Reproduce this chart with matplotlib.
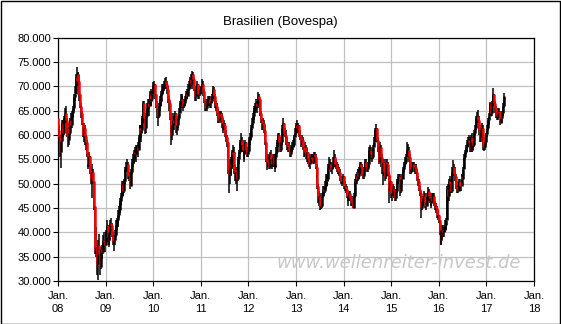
import numpy as np
import pandas as pd
import matplotlib
matplotlib.use("Agg")
import matplotlib.pyplot as plt
from matplotlib.patches import Rectangle

plt.rcParams["font.family"] = ["Liberation Sans", "DejaVu Sans"]

# weekly Bovespa values in thousands (close / high / low)
start_open = 63.5

close_2008 = [61.0, 59.5, 56.5, 58.8, 62.5, 60.5, 63.5, 64.5, 63.0, 60.0, 61.5, 59.0, 60.5,
              63.0, 62.0, 64.5, 65.5, 67.8, 68.5, 72.0, 71.2, 72.5, 71.0, 68.5, 66.0, 64.5,
              62.5, 60.0, 61.5, 59.8, 58.5, 56.0, 54.5, 54.0, 55.7, 52.5, 51.0, 52.5, 50.5,
              45.5, 36.4, 37.0, 33.4, 37.3, 36.5, 35.6, 32.8, 36.6, 36.0, 38.5, 38.0, 37.5]
high_2008 = [63.9, 62.0, 60.0, 59.5, 63.0, 63.0, 64.0, 65.5, 66.0, 63.5, 62.5, 61.5, 61.0,
             63.5, 64.5, 65.0, 66.0, 68.5, 70.0, 72.5, 73.9, 73.0, 73.0, 71.0, 68.5, 66.5,
             65.0, 62.5, 62.5, 62.0, 60.0, 59.0, 56.5, 55.5, 56.5, 55.5, 53.5, 54.0, 53.0,
             50.5, 45.5, 41.0, 37.5, 38.5, 39.7, 37.5, 36.0, 37.0, 37.5, 39.5, 40.0, 38.5]
low_2008 = [60.5, 58.0, 55.5, 53.2, 58.5, 59.5, 60.0, 62.5, 62.5, 59.5, 59.0, 57.5, 58.0,
            60.0, 61.5, 61.5, 63.5, 65.0, 67.0, 68.5, 70.8, 70.5, 70.0, 67.0, 65.5, 63.5,
            62.0, 59.5, 58.5, 58.0, 57.0, 55.5, 53.5, 53.0, 53.5, 52.0, 50.0, 47.0, 50.0,
            44.5, 35.5, 35.0, 31.3, 30.2, 35.0, 33.5, 31.3, 32.5, 34.5, 35.5, 37.0, 36.0]

close_2009 = [40.2, 41.5, 39.0, 38.5, 40.0, 42.0, 41.5, 39.5, 38.2, 38.5, 39.5, 41.5, 42.5,
              43.5, 44.5, 45.5, 46.5, 47.5, 50.0, 48.5, 50.5, 53.0, 53.5, 54.0, 51.5, 51.5,
              51.0, 49.5, 52.5, 54.5, 54.8, 56.5, 56.0, 57.0, 57.5, 57.0, 59.5, 61.5, 60.5,
              61.0, 63.5, 66.5, 63.5, 61.5, 64.0, 65.5, 66.5, 66.0, 68.5, 67.0, 67.5, 68.5]
high_2009 = [40.5, 42.5, 41.5, 40.0, 40.5, 42.5, 43.0, 42.0, 40.0, 39.5, 40.5, 42.5, 43.0,
             44.5, 45.5, 46.5, 47.0, 48.0, 50.5, 50.5, 51.0, 53.5, 54.5, 55.0, 54.5, 52.5,
             52.5, 51.5, 53.0, 55.0, 56.0, 57.0, 57.5, 58.0, 58.0, 58.5, 60.0, 62.0, 62.0,
             62.0, 64.0, 67.0, 67.0, 64.5, 64.5, 66.5, 67.5, 67.5, 69.0, 69.5, 68.5, 69.0]
low_2009 = [37.5, 39.5, 38.0, 37.0, 37.5, 39.5, 40.5, 39.0, 37.5, 36.2, 37.5, 39.0, 40.5,
            41.0, 43.0, 44.0, 45.0, 45.5, 47.0, 47.5, 48.0, 50.0, 52.5, 52.5, 51.0, 50.5,
            50.5, 49.0, 49.5, 52.0, 53.5, 54.0, 55.0, 54.5, 56.0, 55.5, 57.0, 59.0, 59.5,
            58.5, 60.5, 63.0, 62.5, 60.3, 60.5, 63.5, 65.0, 64.0, 66.0, 66.0, 66.0, 67.0]

close_2010 = [70.2, 70.5, 68.5, 66.0, 65.5, 64.0, 66.0, 67.5, 67.0, 68.5, 69.5, 70.0, 70.3,
              71.0, 70.5, 69.5, 67.5, 66.5, 63.5, 61.5, 60.0, 62.0, 63.0, 62.5, 64.5, 61.0,
              62.0, 63.5, 64.5, 66.5, 67.5, 67.0, 67.0, 66.0, 66.5, 67.5, 68.5, 68.0, 69.5,
              70.0, 71.5, 70.5, 71.0, 72.5, 71.5, 69.5, 68.0, 69.5, 70.5, 68.5, 68.5, 69.3, 69.3]
high_2010 = [70.8, 71.0, 70.5, 68.5, 67.0, 66.0, 66.5, 68.0, 68.5, 69.0, 70.5, 70.5, 71.0,
             71.8, 72.0, 71.0, 70.0, 68.0, 67.0, 64.5, 62.5, 62.5, 64.5, 64.0, 65.0, 64.5,
             62.5, 64.0, 65.5, 67.0, 68.5, 68.5, 68.0, 67.5, 67.5, 68.0, 69.0, 69.5, 70.5,
             71.0, 72.0, 72.5, 72.0, 73.1, 73.0, 72.0, 70.0, 70.0, 71.0, 70.5, 69.5, 70.0, 69.8]
low_2010 = [68.5, 69.0, 67.5, 65.5, 63.5, 61.8, 63.5, 65.0, 66.0, 66.5, 68.0, 68.5, 69.0,
            69.5, 69.5, 68.5, 66.5, 65.0, 63.0, 60.5, 58.0, 59.0, 61.0, 61.0, 62.0, 60.5,
            60.0, 61.5, 63.0, 64.5, 66.0, 66.0, 65.5, 65.0, 65.5, 66.0, 67.0, 67.5, 68.0,
            69.0, 69.5, 70.0, 69.5, 70.5, 70.5, 69.0, 67.0, 67.0, 68.5, 67.5, 67.5, 68.0, 68.5]

close_2011 = [70.5, 70.0, 69.0, 67.0, 66.5, 65.5, 67.0, 66.8, 67.5, 66.5, 67.0, 68.0, 68.8,
              69.5, 68.0, 66.5, 66.0, 64.5, 64.0, 63.0, 64.5, 64.0, 62.0, 61.5, 62.5, 62.0,
              60.0, 59.5, 58.5, 53.0, 52.0, 54.0, 53.5, 56.5, 56.0, 56.5, 53.0, 52.5, 52.3,
              51.0, 55.0, 56.5, 58.5, 59.0, 58.0, 57.0, 56.0, 57.0, 58.5, 57.0, 56.0, 56.8]
high_2011 = [71.5, 71.0, 70.5, 69.5, 67.5, 67.0, 67.5, 68.0, 68.0, 68.0, 67.5, 68.5, 69.0,
             70.0, 69.8, 68.5, 67.0, 66.5, 65.5, 65.0, 65.0, 65.0, 64.5, 63.0, 63.5, 63.0,
             62.5, 61.0, 60.0, 58.5, 55.0, 55.0, 55.5, 57.0, 58.0, 57.5, 56.5, 54.0, 53.5,
             53.0, 55.5, 57.0, 59.0, 60.5, 59.5, 59.0, 57.5, 58.0, 59.0, 58.5, 57.5, 57.5]
low_2011 = [69.5, 69.0, 68.0, 66.5, 65.0, 65.0, 65.0, 66.0, 66.0, 65.5, 65.5, 66.5, 67.5,
            68.0, 67.5, 65.5, 65.0, 64.0, 62.5, 62.5, 63.0, 62.5, 61.5, 60.5, 61.0, 61.0,
            59.5, 58.5, 57.5, 52.0, 48.0, 50.0, 51.5, 53.0, 55.0, 53.5, 52.0, 50.5, 50.0,
            48.5, 50.5, 54.0, 56.0, 57.5, 56.5, 56.5, 55.0, 54.5, 56.5, 56.0, 55.5, 55.5]

close_2012 = [59.0, 59.5, 61.5, 62.5, 64.0, 64.5, 65.0, 66.0, 66.5, 66.0, 68.0, 67.5, 64.5,
              63.0, 62.0, 62.5, 61.0, 60.5, 58.5, 55.0, 54.5, 54.5, 53.5, 56.0, 55.0, 54.0,
              55.5, 54.0, 53.5, 55.5, 56.5, 58.5, 60.0, 58.5, 57.0, 58.5, 61.5, 62.5, 60.5,
              60.0, 59.5, 58.5, 58.0, 57.5, 57.0, 56.0, 57.5, 57.5, 58.0, 59.5, 60.5, 60.5]
high_2012 = [59.5, 60.5, 62.0, 63.5, 64.5, 65.5, 66.0, 66.5, 67.5, 67.0, 68.9, 68.5, 67.5,
             65.0, 63.5, 63.5, 63.0, 62.0, 61.0, 58.5, 56.0, 56.0, 55.5, 56.5, 57.0, 55.5,
             56.0, 56.0, 55.0, 56.0, 57.5, 59.0, 60.5, 60.5, 59.0, 59.5, 62.0, 63.5, 62.5,
             61.5, 61.0, 60.0, 59.5, 58.5, 58.5, 57.5, 58.0, 58.5, 59.0, 60.0, 61.5, 61.5]
low_2012 = [56.5, 58.0, 59.0, 61.0, 62.0, 63.0, 63.5, 64.5, 65.5, 64.5, 65.5, 66.5, 64.0,
            62.5, 61.0, 61.0, 60.5, 59.5, 58.0, 54.5, 52.8, 53.5, 53.0, 53.0, 54.5, 53.0,
            53.5, 53.5, 52.5, 53.0, 55.0, 56.0, 57.5, 58.0, 56.5, 56.5, 58.0, 61.0, 60.0,
            59.5, 58.5, 58.0, 57.0, 56.5, 56.5, 55.5, 55.5, 56.5, 57.0, 57.5, 59.5, 60.0]

close_2013 = [62.0, 61.5, 62.0, 60.0, 59.5, 58.5, 59.0, 57.5, 57.0, 56.5, 57.5, 55.5, 56.5,
              55.0, 54.0, 54.5, 55.5, 55.0, 54.5, 56.0, 55.5, 53.5, 51.5, 49.5, 47.0, 47.5,
              45.5, 45.5, 47.5, 49.0, 48.5, 49.5, 51.0, 50.5, 51.0, 53.5, 54.0, 54.0, 53.0,
              53.5, 54.5, 55.5, 54.0, 54.0, 53.0, 53.5, 52.5, 52.5, 51.0, 50.5, 50.5, 51.5]
high_2013 = [62.5, 63.0, 62.5, 62.0, 61.0, 60.0, 60.0, 59.5, 58.0, 58.5, 58.0, 57.5, 57.0,
             56.5, 56.0, 55.5, 56.0, 56.0, 56.0, 56.5, 56.5, 56.0, 54.0, 52.0, 50.0, 48.5,
             48.0, 46.5, 48.0, 49.5, 49.5, 50.5, 52.0, 52.0, 51.5, 54.0, 55.5, 55.0, 54.5,
             54.0, 55.5, 56.9, 56.0, 55.0, 54.5, 54.0, 54.0, 53.5, 53.0, 51.5, 51.0, 52.0]
low_2013 = [60.5, 61.0, 60.5, 59.5, 59.0, 57.5, 58.0, 57.0, 55.5, 55.5, 55.5, 55.0, 54.5,
            54.0, 53.5, 53.0, 54.0, 54.5, 54.0, 54.0, 54.5, 53.0, 51.0, 49.0, 46.0, 45.5,
            44.6, 44.8, 45.0, 47.0, 47.5, 48.0, 49.0, 49.5, 49.5, 50.5, 53.0, 53.0, 52.5,
            52.0, 53.0, 54.5, 53.5, 53.0, 52.5, 52.0, 52.0, 51.5, 50.5, 50.0, 49.5, 50.0]

close_2014 = [49.5, 49.5, 49.0, 47.5, 47.5, 47.5, 48.0, 47.0, 46.5, 46.0, 45.0, 47.5, 50.5,
              51.5, 51.0, 52.5, 51.5, 52.5, 54.0, 53.5, 52.0, 51.5, 53.0, 54.5, 53.5, 53.0,
              54.0, 55.5, 57.0, 57.0, 56.0, 55.5, 57.5, 58.5, 61.0, 61.5, 59.0, 57.5, 56.5,
              54.5, 57.5, 55.5, 53.0, 54.5, 52.5, 51.5, 54.5, 54.0, 52.0, 49.0, 48.5, 50.5]
high_2014 = [51.5, 50.5, 50.0, 49.5, 48.0, 48.5, 48.5, 48.5, 47.5, 47.5, 46.5, 48.0, 51.0,
             52.0, 52.5, 53.0, 53.0, 53.5, 54.5, 54.5, 54.0, 52.5, 53.5, 55.0, 55.0, 54.5,
             54.5, 56.0, 57.5, 58.0, 57.5, 57.0, 58.0, 59.5, 61.5, 62.2, 61.5, 59.5, 58.5,
             57.0, 58.5, 58.0, 56.0, 55.0, 55.0, 53.0, 55.0, 55.0, 54.5, 52.5, 49.5, 51.5]
low_2014 = [49.0, 48.5, 48.0, 47.0, 45.5, 46.5, 46.5, 46.5, 45.5, 45.5, 44.9, 45.0, 47.0,
            50.0, 50.0, 50.5, 51.0, 51.0, 52.0, 52.0, 51.5, 51.0, 51.0, 52.5, 53.0, 52.5,
            52.5, 53.5, 55.0, 56.0, 55.0, 54.5, 55.0, 57.5, 58.5, 60.0, 58.5, 56.5, 54.5,
            54.0, 54.5, 53.5, 52.0, 49.7, 51.5, 50.5, 51.0, 53.0, 51.5, 48.5, 46.0, 48.5]

close_2015 = [48.0, 48.0, 49.0, 48.5, 47.0, 48.5, 50.5, 51.5, 51.5, 49.5, 48.5, 51.0, 51.0,
              53.0, 54.0, 54.5, 55.5, 57.0, 57.0, 55.5, 53.5, 52.5, 53.0, 53.5, 54.0, 53.0,
              53.5, 52.5, 51.0, 50.5, 49.0, 48.0, 47.5, 45.0, 46.5, 47.0, 47.5, 46.0, 45.5,
              47.5, 48.5, 47.5, 47.0, 46.0, 47.0, 46.5, 47.5, 46.0, 45.5, 45.0, 43.5, 43.5]
high_2015 = [50.0, 49.5, 50.0, 49.5, 49.0, 49.0, 51.0, 52.0, 52.0, 52.0, 50.0, 51.5, 52.0,
             53.5, 54.5, 55.5, 56.0, 58.5, 58.2, 57.5, 56.0, 54.0, 54.0, 54.5, 54.5, 54.5,
             54.0, 54.0, 53.0, 51.5, 51.0, 49.5, 48.5, 48.0, 47.5, 47.5, 48.5, 48.0, 46.5,
             48.0, 49.3, 49.0, 48.0, 47.5, 47.5, 48.0, 48.0, 48.0, 46.5, 46.0, 45.5, 44.5]
low_2015 = [47.0, 46.5, 47.5, 47.0, 46.5, 46.5, 48.0, 50.0, 50.5, 49.0, 47.5, 48.0, 50.0,
            51.0, 52.5, 53.5, 54.0, 55.5, 56.0, 54.5, 53.0, 52.0, 52.0, 52.5, 53.0, 52.5,
            52.0, 52.0, 50.5, 49.5, 48.5, 47.5, 46.5, 43.0, 44.5, 45.5, 46.0, 45.0, 44.5,
            45.5, 47.0, 46.5, 46.0, 45.5, 45.0, 46.0, 46.0, 45.5, 44.5, 44.0, 43.0, 42.5]

close_2016 = [42.5, 40.0, 38.5, 40.5, 40.5, 40.0, 40.5, 41.5, 42.5, 49.0, 47.5, 50.5, 50.0,
              48.5, 50.0, 52.5, 53.5, 52.0, 51.5, 49.5, 49.0, 48.5, 50.5, 49.5, 49.5, 51.5,
              51.0, 53.0, 55.5, 56.5, 57.5, 58.0, 59.0, 58.5, 57.0, 59.5, 57.0, 58.5, 58.0,
              60.5, 61.5, 63.5, 64.0, 63.0, 61.0, 59.5, 61.0, 61.5, 59.5, 58.0, 57.5, 58.5, 60.2]
high_2016 = [43.5, 42.5, 40.5, 41.0, 41.5, 41.5, 41.0, 42.5, 43.0, 49.5, 50.0, 51.0, 51.5,
             51.0, 51.0, 53.5, 54.9, 54.0, 53.5, 52.0, 50.5, 50.0, 51.0, 51.0, 50.5, 52.0,
             52.0, 53.5, 56.0, 57.0, 58.0, 59.0, 59.5, 60.0, 59.5, 60.0, 60.5, 59.0, 59.5,
             61.0, 62.0, 64.0, 64.8, 65.1, 64.0, 62.0, 61.5, 62.5, 62.0, 60.5, 58.5, 59.5, 60.5]
low_2016 = [42.0, 39.5, 37.3, 37.5, 39.5, 39.0, 39.0, 40.0, 40.5, 42.5, 46.5, 46.5, 49.0,
            48.0, 48.0, 50.0, 52.0, 51.5, 50.5, 49.0, 48.0, 48.0, 48.5, 49.0, 48.5, 49.5,
            50.5, 51.0, 53.0, 55.0, 56.0, 56.5, 57.5, 57.5, 56.5, 56.5, 56.5, 56.5, 57.0,
            57.5, 60.0, 61.0, 63.0, 62.5, 60.0, 58.5, 58.5, 59.5, 58.0, 57.0, 56.8, 57.0, 58.0]

close_2017 = [61.5, 63.0, 64.0, 66.5, 64.5, 66.5, 67.5, 68.5, 66.5, 65.5, 64.5, 64.0, 65.0,
              64.5, 62.5, 63.5, 64.5, 66.0, 68.0]
high_2017 = [62.0, 63.5, 64.5, 66.8, 66.5, 67.0, 68.0, 69.6, 68.5, 67.0, 66.0, 65.0, 65.5,
             65.5, 65.0, 64.0, 65.0, 66.5, 68.6]
low_2017 = [59.5, 61.0, 62.0, 64.0, 64.0, 64.0, 66.0, 67.0, 66.0, 64.5, 63.5, 63.0, 63.0,
            63.5, 62.0, 62.5, 62.5, 64.0, 65.5]

years = list(range(2008, 2018))
closes = [close_2008, close_2009, close_2010, close_2011, close_2012,
          close_2013, close_2014, close_2015, close_2016, close_2017]
highs = [high_2008, high_2009, high_2010, high_2011, high_2012,
         high_2013, high_2014, high_2015, high_2016, high_2017]
lows = [low_2008, low_2009, low_2010, low_2011, low_2012,
        low_2013, low_2014, low_2015, low_2016, low_2017]

dates = []
for yr, c in zip(years, closes):
    dates.extend(pd.date_range(f"{yr}-01-01", periods=len(c), freq="W-FRI"))
dates = pd.DatetimeIndex(dates)

close = np.concatenate(closes) * 1000
high = np.concatenate(highs) * 1000
low = np.concatenate(lows) * 1000
opn = np.concatenate([[start_open * 1000], close[:-1]])
high = np.maximum(high, np.maximum(opn, close))
low = np.minimum(low, np.minimum(opn, close))

fig = plt.figure(figsize=(5.61, 3.24), dpi=100)
ax = fig.add_axes([58 / 561, 1 - 281 / 324, 476 / 561, 243.3 / 324])

ax.vlines(dates, low, high, colors="black", linewidth=1.1, zorder=3)
body_colors = np.where(close < opn, "#ff0000", "#000000")
ax.vlines(dates, opn, close, colors=body_colors, linewidth=1.8, zorder=4)

ax.set_xlim(pd.Timestamp("2008-01-01"), pd.Timestamp("2018-01-01"))
ax.set_ylim(30000, 80000)

xt = [pd.Timestamp(f"{y}-01-01") for y in range(2008, 2019)]
ax.set_xticks(xt)
ax.set_xticklabels([f"Jan.\n{str(y)[2:]}" for y in range(2008, 2019)], linespacing=1.3)
yt = np.arange(30000, 80001, 5000)
ax.set_yticks(yt)
ax.set_yticklabels([f"{v:,.0f}".replace(",", ".") for v in yt])

ax.tick_params(direction="out", length=3.5, width=0.8, labelsize=8, colors="black")
ax.tick_params(axis="x", pad=4)
ax.tick_params(axis="y", pad=1.5)
ax.grid(True, color="#c0c0c0", linewidth=0.9, zorder=0)
ax.set_axisbelow(True)
for s in ax.spines.values():
    s.set_color("black")
    s.set_linewidth(0.9)

fig.text(0.5, 1 - 22 / 324, "Brasilien (Bovespa)", ha="center", va="center", fontsize=9.5)
fig.text(521 / 561, 1 - 263 / 324, "www.wellenreiter-invest.de", ha="right", va="center",
         fontsize=13, style="italic", color="#c8c8c8", family="DejaVu Sans", zorder=1)

fig.patches.append(Rectangle((0.5 / 561, 0.5 / 324), 1 - 1.5 / 561, 1 - 1.5 / 324,
                             transform=fig.transFigure, fill=False,
                             edgecolor="black", linewidth=1.0))

fig.savefig("out.png", dpi=100)
